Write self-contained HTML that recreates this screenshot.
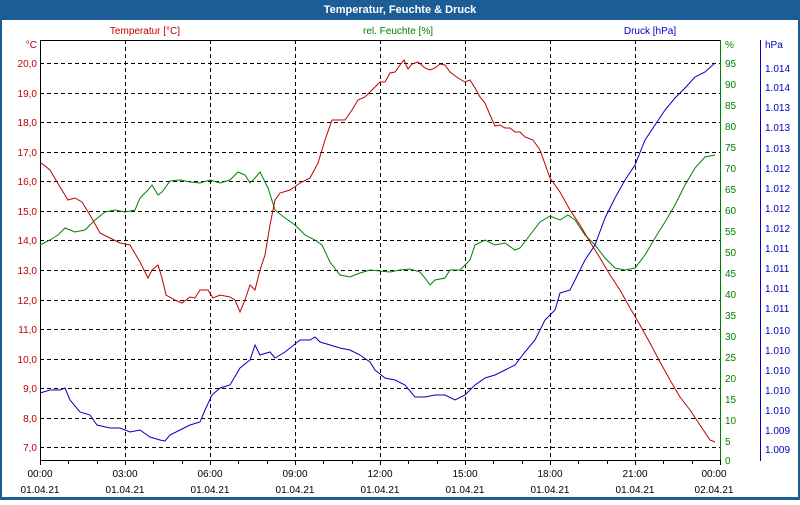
<!DOCTYPE html>
<html><head><meta charset="utf-8"><style>
body{margin:0;width:800px;height:500px;overflow:hidden;background:#fff;font-family:"Liberation Sans",sans-serif}
</style></head><body>
<svg width="800" height="500" xmlns="http://www.w3.org/2000/svg" font-family="Liberation Sans, sans-serif" font-size="10">
<rect x="0" y="0" width="800" height="500" fill="#1d5d96"/>
<rect x="2" y="20" width="796" height="477" fill="#fff"/>
<text x="400" y="13" fill="#fff" font-weight="bold" font-size="11" text-anchor="middle">Temperatur, Feuchte &amp; Druck</text>
<text x="145" y="34" fill="#c00000" text-anchor="middle">Temperatur [°C]</text>
<text x="398" y="34" fill="#008000" text-anchor="middle">rel. Feuchte [%]</text>
<text x="650" y="34" fill="#0000c0" text-anchor="middle">Druck [hPa]</text>
<g stroke="#000" stroke-dasharray="4,3" stroke-width="1">
<line x1="40" x2="720" y1="63.5" y2="63.5"/><line x1="40" x2="720" y1="93.5" y2="93.5"/><line x1="40" x2="720" y1="122.5" y2="122.5"/><line x1="40" x2="720" y1="152.5" y2="152.5"/><line x1="40" x2="720" y1="181.5" y2="181.5"/><line x1="40" x2="720" y1="211.5" y2="211.5"/><line x1="40" x2="720" y1="240.5" y2="240.5"/><line x1="40" x2="720" y1="270.5" y2="270.5"/><line x1="40" x2="720" y1="300.5" y2="300.5"/><line x1="40" x2="720" y1="329.5" y2="329.5"/><line x1="40" x2="720" y1="359.5" y2="359.5"/><line x1="40" x2="720" y1="388.5" y2="388.5"/><line x1="40" x2="720" y1="418.5" y2="418.5"/><line x1="40" x2="720" y1="447.5" y2="447.5"/>
<line y1="40" y2="460" x1="125.5" x2="125.5"/><line y1="40" y2="460" x1="210.5" x2="210.5"/><line y1="40" y2="460" x1="295.5" x2="295.5"/><line y1="40" y2="460" x1="380.5" x2="380.5"/><line y1="40" y2="460" x1="465.5" x2="465.5"/><line y1="40" y2="460" x1="550.5" x2="550.5"/><line y1="40" y2="460" x1="635.5" x2="635.5"/>
</g>
<line x1="40" y1="40.5" x2="720" y2="40.5" stroke="#000"/>
<line x1="40.5" y1="40" x2="40.5" y2="461" stroke="#000"/>
<line x1="40" y1="460.5" x2="720" y2="460.5" stroke="#000"/>
<line x1="720.5" y1="40" x2="720.5" y2="461" stroke="#008000"/>
<line x1="760.5" y1="40" x2="760.5" y2="461" stroke="#0000c0"/>
<g stroke="#000"><line x1="40.5" x2="40.5" y1="460" y2="465"/><line x1="68.5" x2="68.5" y1="460" y2="464"/><line x1="97.5" x2="97.5" y1="460" y2="464"/><line x1="125.5" x2="125.5" y1="460" y2="465"/><line x1="153.5" x2="153.5" y1="460" y2="464"/><line x1="182.5" x2="182.5" y1="460" y2="464"/><line x1="210.5" x2="210.5" y1="460" y2="465"/><line x1="238.5" x2="238.5" y1="460" y2="464"/><line x1="267.5" x2="267.5" y1="460" y2="464"/><line x1="295.5" x2="295.5" y1="460" y2="465"/><line x1="323.5" x2="323.5" y1="460" y2="464"/><line x1="352.5" x2="352.5" y1="460" y2="464"/><line x1="380.5" x2="380.5" y1="460" y2="465"/><line x1="408.5" x2="408.5" y1="460" y2="464"/><line x1="437.5" x2="437.5" y1="460" y2="464"/><line x1="465.5" x2="465.5" y1="460" y2="465"/><line x1="493.5" x2="493.5" y1="460" y2="464"/><line x1="522.5" x2="522.5" y1="460" y2="464"/><line x1="550.5" x2="550.5" y1="460" y2="465"/><line x1="578.5" x2="578.5" y1="460" y2="464"/><line x1="607.5" x2="607.5" y1="460" y2="464"/><line x1="635.5" x2="635.5" y1="460" y2="465"/><line x1="663.5" x2="663.5" y1="460" y2="464"/><line x1="692.5" x2="692.5" y1="460" y2="464"/><line x1="720.5" x2="720.5" y1="460" y2="465"/></g>
<g fill="#000" text-anchor="middle">
<text x="40" y="477">00:00</text><text x="40" y="493">01.04.21</text>
<text x="125" y="477">03:00</text><text x="125" y="493">01.04.21</text>
<text x="210" y="477">06:00</text><text x="210" y="493">01.04.21</text>
<text x="295" y="477">09:00</text><text x="295" y="493">01.04.21</text>
<text x="380" y="477">12:00</text><text x="380" y="493">01.04.21</text>
<text x="465" y="477">15:00</text><text x="465" y="493">01.04.21</text>
<text x="550" y="477">18:00</text><text x="550" y="493">01.04.21</text>
<text x="635" y="477">21:00</text><text x="635" y="493">01.04.21</text>
<text x="714" y="477">00:00</text><text x="714" y="493">02.04.21</text>
</g>
<g fill="#c00000" text-anchor="end">
<text x="37" y="48">°C</text>
<text x="37" y="67">20,0</text><text x="37" y="97">19,0</text><text x="37" y="126">18,0</text><text x="37" y="156">17,0</text><text x="37" y="185">16,0</text><text x="37" y="215">15,0</text><text x="37" y="244">14,0</text><text x="37" y="274">13,0</text><text x="37" y="304">12,0</text><text x="37" y="333">11,0</text><text x="37" y="363">10,0</text><text x="37" y="392">9,0</text><text x="37" y="422">8,0</text><text x="37" y="451">7,0</text>
</g>
<g fill="#008000">
<text x="725" y="48">%</text>
<text x="725" y="67">95</text><text x="725" y="88">90</text><text x="725" y="109">85</text><text x="725" y="130">80</text><text x="725" y="151">75</text><text x="725" y="172">70</text><text x="725" y="193">65</text><text x="725" y="214">60</text><text x="725" y="235">55</text><text x="725" y="256">50</text><text x="725" y="277">45</text><text x="725" y="298">40</text><text x="725" y="319">35</text><text x="725" y="340">30</text><text x="725" y="361">25</text><text x="725" y="382">20</text><text x="725" y="403">15</text><text x="725" y="424">10</text><text x="725" y="445">5</text><text x="725" y="464">0</text>
</g>
<g fill="#0000c0">
<text x="765" y="48">hPa</text>
<text x="765" y="72">1.014</text><text x="765" y="91">1.014</text><text x="765" y="111">1.013</text><text x="765" y="131">1.013</text><text x="765" y="152">1.013</text><text x="765" y="172">1.012</text><text x="765" y="192">1.012</text><text x="765" y="212">1.012</text><text x="765" y="232">1.012</text><text x="765" y="252">1.011</text><text x="765" y="272">1.011</text><text x="765" y="292">1.011</text><text x="765" y="312">1.011</text><text x="765" y="334">1.010</text><text x="765" y="354">1.010</text><text x="765" y="374">1.010</text><text x="765" y="394">1.010</text><text x="765" y="414">1.010</text><text x="765" y="434">1.009</text><text x="765" y="453">1.009</text>
</g>
<polyline fill="none" stroke="#008000" points="40,245 50,240 58,235 65,228 75,232 85,230 95,220 105,212 115,210 125,212 135,210 140,198 148,190 152,185 158,195 162,192 170,181 180,180 190,182 200,183 210,180 220,183 230,180 238,172 245,175 250,183 255,178 260,172 268,188 275,210 285,218 295,225 305,235 315,240 322,245 330,262 340,275 350,277 360,273 370,270 380,271 390,272 400,270 410,269 420,272 425,278 430,285 435,280 445,278 450,270 460,270 470,260 475,245 485,240 495,245 505,243 515,250 520,248 530,235 540,222 550,216 560,220 568,215 575,220 585,235 595,245 605,258 615,268 625,270 635,268 645,255 655,238 665,222 675,205 685,185 695,168 705,157 715,155"/>
<polyline fill="none" stroke="#0000c0" points="40,393 50,390 60,390 65,388 70,400 80,412 90,415 97,425 110,428 120,428 130,432 140,430 150,437 160,440 165,441 170,435 180,430 190,425 200,422 205,410 212,395 220,388 230,385 240,368 250,360 255,345 260,355 270,352 275,358 285,352 290,348 300,340 310,340 315,337 320,342 330,345 340,348 350,350 360,355 370,362 375,370 385,378 395,380 405,385 415,397 425,397 435,395 445,395 455,400 465,395 475,385 485,378 495,375 505,370 515,365 525,352 535,340 545,320 555,310 560,293 570,290 575,280 585,260 595,245 605,218 615,198 625,180 635,165 645,140 655,125 665,110 675,98 685,88 695,77 705,72 715,63"/>
<polyline fill="none" stroke="#c00000" points="40,162 50,170 60,187 68,200 75,198 82,202 90,215 100,233 110,238 120,243 130,245 140,262 148,278 152,270 158,265 162,278 166,295 175,300 182,303 190,297 195,298 200,290 208,290 213,298 220,295 230,297 235,300 240,312 245,300 250,285 255,290 260,270 265,255 270,225 275,200 280,193 290,190 300,183 310,178 318,163 325,140 332,120 345,120 352,110 358,100 365,97 372,90 380,82 385,82 390,73 395,72 400,65 404,60 408,69 412,64 418,62 425,68 430,70 435,68 440,64 445,65 450,72 458,78 465,82 470,80 475,88 480,97 485,103 490,115 495,126 500,125 505,128 510,128 515,132 520,132 525,137 533,140 540,150 550,178 560,192 570,210 580,225 590,242 600,258 610,275 620,290 630,308 640,325 650,343 660,362 670,380 680,397 690,410 700,425 710,440 715,442"/>
</svg>
</body></html>
